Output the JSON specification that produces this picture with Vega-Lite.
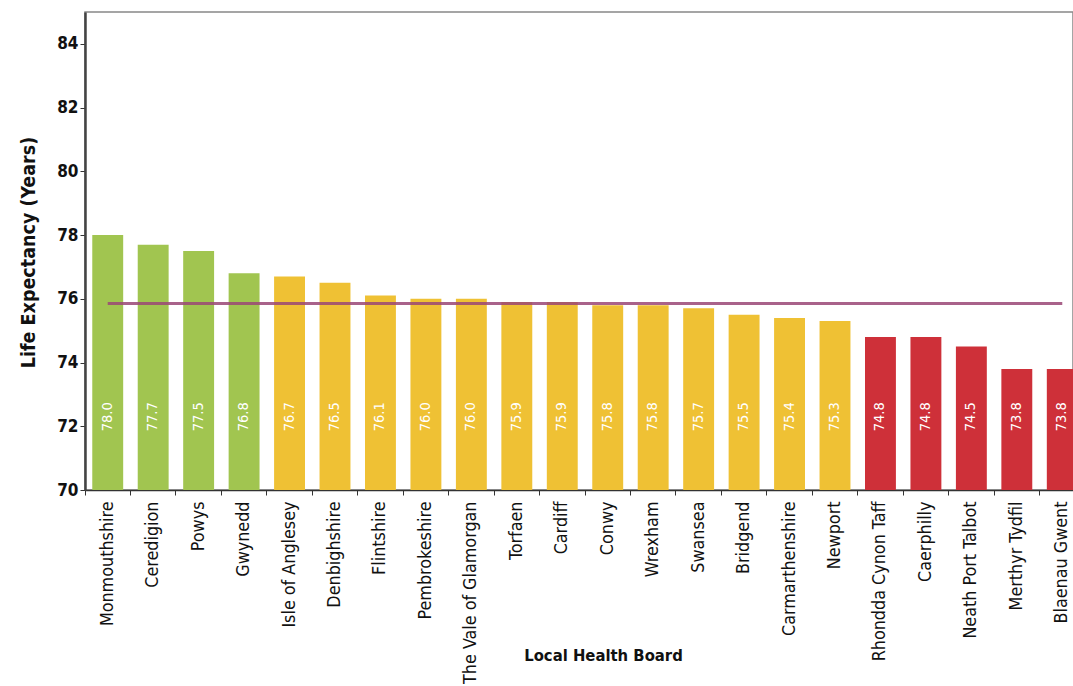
{
  "$schema": "https://vega.github.io/schema/vega-lite/v6.json",
  "width": 988,
  "height": 478,
  "autosize": {"type": "none"},
  "padding": {"left": 85, "top": 12, "right": 0, "bottom": 196},
  "background": "white",
  "config": {
    "font": "DejaVu Sans Condensed, DejaVu Sans",
    "view": {"stroke": "#888888", "strokeWidth": 1.5},
    "axis": {"grid": false}
  },
  "data": {
    "values": [
      {"board": "Monmouthshire", "le": 78.0, "group": "high", "avg": 75.85},
      {"board": "Ceredigion", "le": 77.7, "group": "high", "avg": 75.85},
      {"board": "Powys", "le": 77.5, "group": "high", "avg": 75.85},
      {"board": "Gwynedd", "le": 76.8, "group": "high", "avg": 75.85},
      {"board": "Isle of Anglesey", "le": 76.7, "group": "mid", "avg": 75.85},
      {"board": "Denbighshire", "le": 76.5, "group": "mid", "avg": 75.85},
      {"board": "Flintshire", "le": 76.1, "group": "mid", "avg": 75.85},
      {"board": "Pembrokeshire", "le": 76.0, "group": "mid", "avg": 75.85},
      {"board": "The Vale of Glamorgan", "le": 76.0, "group": "mid", "avg": 75.85},
      {"board": "Torfaen", "le": 75.9, "group": "mid", "avg": 75.85},
      {"board": "Cardiff", "le": 75.9, "group": "mid", "avg": 75.85},
      {"board": "Conwy", "le": 75.8, "group": "mid", "avg": 75.85},
      {"board": "Wrexham", "le": 75.8, "group": "mid", "avg": 75.85},
      {"board": "Swansea", "le": 75.7, "group": "mid", "avg": 75.85},
      {"board": "Bridgend", "le": 75.5, "group": "mid", "avg": 75.85},
      {"board": "Carmarthenshire", "le": 75.4, "group": "mid", "avg": 75.85},
      {"board": "Newport", "le": 75.3, "group": "mid", "avg": 75.85},
      {"board": "Rhondda Cynon Taff", "le": 74.8, "group": "low", "avg": 75.85},
      {"board": "Caerphilly", "le": 74.8, "group": "low", "avg": 75.85},
      {"board": "Neath Port Talbot", "le": 74.5, "group": "low", "avg": 75.85},
      {"board": "Merthyr Tydfil", "le": 73.8, "group": "low", "avg": 75.85},
      {"board": "Blaenau Gwent", "le": 73.8, "group": "low", "avg": 75.85}
    ]
  },
  "encoding": {
    "x": {
      "field": "board",
      "type": "nominal",
      "sort": null,
      "scale": {"range": [0, 1000], "paddingInner": 0.32, "paddingOuter": 0.16},
      "axis": {
        "title": "Local Health Board",
        "titleFontSize": 16.5,
        "titleFontWeight": "bold",
        "titleColor": "#111111",
        "titleX": 518,
        "titleY": 170,
        "titleBaseline": "alphabetic",
        "titleAlign": "center",
        "labelAngle": 270,
        "labelAlign": "right",
        "labelBaseline": "middle",
        "labelFontSize": 17.8,
        "labelColor": "#111111",
        "labelPadding": 6,
        "labelLimit": 0,
        "bandPosition": -0.235,
        "tickSize": 5,
        "tickColor": "#333333",
        "domainColor": "#333333",
        "domainWidth": 1.5
      }
    }
  },
  "layer": [
    {
      "mark": {"type": "bar"},
      "encoding": {
        "y": {
          "field": "le",
          "type": "quantitative",
          "scale": {"domain": [70, 85], "nice": false, "zero": false},
          "axis": {
            "title": "Life Expectancy (Years)",
            "titleFontSize": 19.5,
            "titleFontWeight": "bold",
            "titleColor": "#111111",
            "titleAngle": 270,
            "titleX": -57,
            "titleY": 240,
            "titleAlign": "center",
            "titleBaseline": "middle",
            "values": [70, 72, 74, 76, 78, 80, 82, 84],
            "labelFontSize": 17,
            "labelFontWeight": "bold",
            "labelColor": "#111111",
            "labelPadding": 2,
            "tickSize": 5,
            "tickColor": "#333333",
            "domainColor": "#444444",
            "domainWidth": 2.5
          }
        },
        "y2": {"datum": 70},
        "color": {
          "field": "group",
          "type": "nominal",
          "scale": {"domain": ["high", "mid", "low"], "range": ["#A1C550", "#EFC134", "#CE3039"]},
          "legend": null
        }
      }
    },
    {
      "mark": {"type": "line", "color": "#9A4676", "strokeWidth": 3, "opacity": 0.85},
      "encoding": {
        "y": {"field": "avg", "type": "quantitative"}
      }
    },
    {
      "mark": {"type": "text", "angle": 270, "color": "white", "fontSize": 14.5, "align": "center", "baseline": "middle"},
      "encoding": {
        "y": {"datum": 72.3},
        "text": {"field": "le", "type": "quantitative", "format": ".1f"}
      }
    }
  ]
}
